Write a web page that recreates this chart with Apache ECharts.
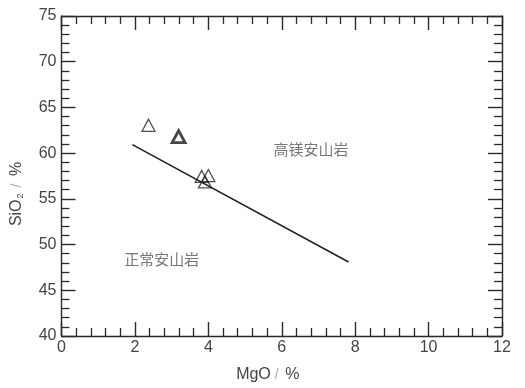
<!DOCTYPE html>
<html>
<head>
<meta charset="utf-8">
<script src="https://cdn.jsdelivr.net/npm/echarts@6/dist/echarts.min.js"></script>
<style>
  html, body { margin: 0; padding: 0; background: #fff; }
  #chart { width: 525px; height: 388px; }
</style>
</head>
<body>
<div id="chart"></div>
<script>
// Andesite samples: MgO (%) vs SiO2 (%)
const samplesMgO  = [2.37, 3.82, 4.00, 3.91];
const samplesSiO2 = [63.05, 57.45, 57.55, 56.85];
// Sample drawn with a heavy outline
const boldMgO  = [3.19];
const boldSiO2 = [61.8];
// Dividing line between normal and high-Mg andesite
const lineMgO  = [1.93, 7.82];
const lineSiO2 = [60.93, 48.1];
// Field names and where they sit (data coordinates)
const fieldNames = ['高镁安山岩', '正常安山岩'];
const fieldMgO   = [6.8, 2.73];
const fieldSiO2  = [60.45, 48.4];

const xMin = 0, xMax = 12, xStep = 2;
const yMin = 40, yMax = 75, yStep = 5;

const font = 'Liberation Sans, Arial, sans-serif';
const axisColor = '#2a2a2a';
const labelColor = '#444';

function xAxisDef(showLabels) {
  return {
    type: 'value', min: xMin, max: xMax, interval: xStep,
    position: showLabels ? 'bottom' : 'top',
    axisLine: { show: true, onZero: false, lineStyle: { color: axisColor, width: 1.4 } },
    axisTick: { show: true, inside: true, length: 14, lineStyle: { color: axisColor, width: 1.4 } },
    minorTick: { show: true, splitNumber: 5, length: 8, lineStyle: { color: axisColor, width: 1.3 } },
    splitLine: { show: false },
    axisLabel: { show: showLabels, color: labelColor, fontSize: 16, fontFamily: font, margin: 4 },
    name: showLabels ? 'MgO{sl|/} %' : '',
    nameLocation: 'middle', nameGap: 31,
    nameTextStyle: {
      color: labelColor, fontSize: 16, fontFamily: font, padding: [0, 28, 0, 0],
      rich: { sl: { color: '#aaa', fontSize: 14, fontFamily: font, padding: [0, 2, 0, 4] } }
    }
  };
}
function yAxisDef(showLabels) {
  return {
    type: 'value', min: yMin, max: yMax, interval: yStep,
    position: showLabels ? 'left' : 'right',
    axisLine: { show: true, onZero: false, lineStyle: { color: axisColor, width: 1.4 } },
    axisTick: { show: true, inside: true, length: 14, lineStyle: { color: axisColor, width: 1.4 } },
    minorTick: { show: true, splitNumber: 5, length: 8, lineStyle: { color: axisColor, width: 1.3 } },
    splitLine: { show: false },
    axisLabel: { show: showLabels, color: labelColor, fontSize: 16, fontFamily: font, margin: 5 },
    name: showLabels ? 'SiO{sub|2}{sl|/} %' : '',
    nameLocation: 'middle', nameGap: 36, nameRotate: 90,
    nameTextStyle: {
      color: labelColor, fontSize: 16, fontFamily: font, padding: [0, 36, 0, 0],
      rich: {
        sub: { color: labelColor, fontSize: 9, fontFamily: font, verticalAlign: 'bottom', padding: [8, 0, 0, 1] },
        sl: { color: '#aaa', fontSize: 14, fontFamily: font, padding: [0, 3, 0, 6] }
      }
    }
  };
}

const pts = samplesMgO.map((x, i) => [x, samplesSiO2[i]]);
const boldPts = boldMgO.map((x, i) => [x, boldSiO2[i]]);
const linePts = lineMgO.map((x, i) => [x, lineSiO2[i]]);
const fieldPts = fieldNames.map((n, i) => ({ name: n, value: [fieldMgO[i], fieldSiO2[i]] }));

const chart = echarts.init(document.getElementById('chart'), null, { renderer: 'canvas' });
chart.setOption({
  animation: false,
  backgroundColor: '#fff',
  grid: { left: 61.5, right: 23, top: 16, bottom: 43, containLabel: false },
  xAxis: [xAxisDef(true), xAxisDef(false)],
  yAxis: [yAxisDef(true), yAxisDef(false)],
  series: [
    {
      type: 'line', data: linePts, symbol: 'none', silent: true,
      lineStyle: { color: '#222', width: 1.6 }
    },
    {
      type: 'scatter', data: pts, symbol: 'triangle', symbolSize: [13, 12],
      itemStyle: { color: 'rgba(255,255,255,0)', borderColor: '#222', borderWidth: 1.3 }
    },
    {
      type: 'scatter', data: boldPts, symbol: 'triangle', symbolSize: [13, 12],
      itemStyle: { color: 'rgba(255,255,255,0)', borderColor: '#1a1a1a', borderWidth: 2.8 }
    },
    {
      type: 'scatter', data: fieldPts, symbol: 'circle', symbolSize: 2, silent: true,
      itemStyle: { color: 'rgba(0,0,0,0)', borderWidth: 0 },
      label: {
        show: true, position: 'inside', formatter: '{b}',
        color: '#555', fontSize: 15, fontFamily: 'Noto Sans CJK SC'
      }
    }
  ]
});
</script>
</body>
</html>
